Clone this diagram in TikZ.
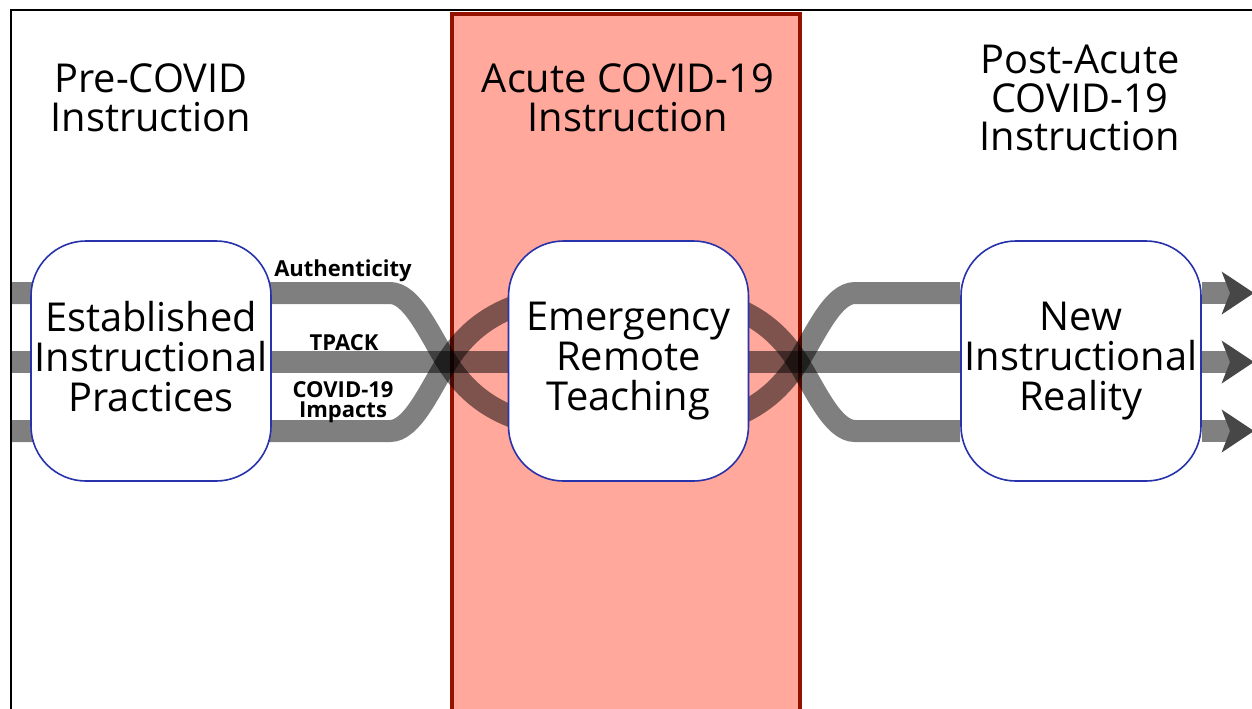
\documentclass[tikz,border=0pt]{standalone}
\usepackage{fontspec}
\setmainfont{Open Sans}
\usetikzlibrary{arrows.meta}
\definecolor{bandfill}{RGB}{255,168,155}
\definecolor{bandline}{RGB}{150,18,0}
\definecolor{boxline}{RGB}{40,50,170}
\pgfdeclarelayer{back}
\pgfdeclarelayer{mid}
\pgfsetlayers{back,mid,main}
\begin{document}
\begin{tikzpicture}[x=0.5pt,y=-0.5pt,
  stream/.style={line width=11pt, draw=black, draw opacity=0.5},
  outarrow/.style={line width=11pt, draw=black!50, -{Stealth[length=16pt,width=21pt,inset=4pt,color=black!72]}},
  stage/.style={fill=white, draw=boxline, line width=0.8pt, rounded corners=27.5pt,
    minimum width=120pt, minimum height=120pt, inner sep=0pt, align=center,
    font=\fontsize{19.9}{20}\selectfont},
  heading/.style={align=center, inner sep=0pt},
  tag/.style={font=\fontsize{11}{10}\bfseries\selectfont, inner sep=0pt, align=center}]
\useasboundingbox (0,0) rectangle (1252,708);
\clip (0,0) rectangle (1252,708);

% boxes
\node[stage] (L) at (151,361) {Established\\Instructional\\Practices\vphantom{g}};
\node[stage] (M) at (628.5,361) {Emergency\\Remote\\Teaching};
\node[stage] (R) at (1081,361) {New\\Instructional\\Reality};

\begin{pgfonlayer}{back}
  \draw[line width=1pt] (11,10) rectangle (1320,780);
  \draw[fill=bandfill, draw=bandline, line width=2pt] (452,14) rectangle (800,780);
\end{pgfonlayer}

\coordinate (s1) at (11,293);
\coordinate (s2) at (11,362);
\coordinate (s3) at (11,431);
\coordinate (o1) at (1254,293);
\coordinate (o2) at (1254,362);
\coordinate (o3) at (1254,431);

\begin{pgfonlayer}{mid}
  \draw[stream] (s1) -- (390,293) .. controls (412,293) and (429,333) .. (447,362)
    .. controls (486,424.5) and (548,431) .. (622.5,431)
    .. controls (697,431) and (759,424.5) .. (798,362)
    .. controls (816,333) and (833,293) .. (855,293) -- (R.west |- s1);
  \draw[stream] (s2) -- (R.west |- s2);
  \draw[stream] (s3) -- (390,431) .. controls (412,431) and (429,391) .. (447,362)
    .. controls (486,299.5) and (548,293) .. (622.5,293)
    .. controls (697,293) and (759,299.5) .. (798,362)
    .. controls (816,391) and (833,431) .. (855,431) -- (R.west |- s3);
\end{pgfonlayer}

\draw[outarrow] (R.east |- o1) -- (o1);
\draw[outarrow] (R.east |- o2) -- (o2);
\draw[outarrow] (R.east |- o3) -- (o3);

% headings
\node[heading, font=\fontsize{19.9}{19.6}\selectfont] (h1) at (151,98) {Pre-COVID\\Instruction};
\node[heading, font=\fontsize{19.9}{19.3}\selectfont] (h2) at (628,97.5) {Acute COVID-19\\Instruction};
\node[heading, font=\fontsize{19.9}{19.3}\selectfont] (h3) at (1080,98) {Post-Acute\\COVID-19\\Instruction};

% stream labels
\node[tag, anchor=base] (t1) at (343,276) {Authenticity};
\node[tag, anchor=base] (t2) at (344,350) {TPACK};
\node[tag] (t3) at (343,402) {COVID-19\\Impacts};
\end{tikzpicture}
\end{document}
